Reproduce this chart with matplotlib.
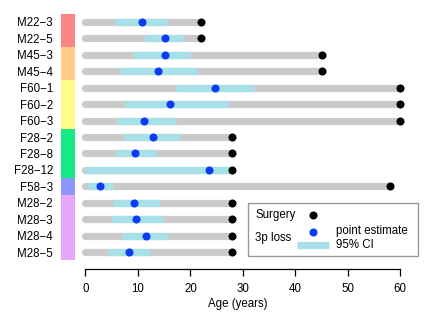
import matplotlib
matplotlib.use("Agg")
import matplotlib.pyplot as plt
from matplotlib.patches import Rectangle
from matplotlib.lines import Line2D

plt.rcParams['font.family'] = ['Liberation Sans', 'DejaVu Sans']

samples = ["M22−3", "M22−5", "M45−3", "M45−4", "F60−1", "F60−2", "F60−3",
           "F28−2", "F28−8", "F28−12", "F58−3", "M28−2", "M28−3", "M28−4", "M28−5"]
surgery = [22, 22, 45, 45, 60, 60, 60, 28, 28, 28, 58, 28, 28, 28, 28]
estimate = [10.7, 15.2, 15.1, 13.8, 24.7, 16.1, 11.2, 12.8, 9.5, 23.6, 2.7, 9.2, 9.6, 11.5, 8.2]
ci_low = [5.6, 11.4, 9.1, 6.5, 17.2, 7.5, 6.1, 7.3, 5.8, 0.0, 0.5, 5.3, 5.1, 7.0, 4.2]
ci_high = [15.5, 18.5, 19.9, 21.2, 32.2, 27.1, 17.2, 18.0, 13.4, 28.0, 5.3, 14.2, 14.7, 15.5, 12.3]

groups = ["M22", "M45", "F60", "F28", "F58", "M28"]
group_sizes = [2, 2, 3, 3, 1, 4]
group_colors = ["#FA8585", "#FECD87", "#FEFB88", "#14EA84", "#8C96FB", "#E8A6F6"]

xticks = [0, 10, 20, 30, 40, 50, 60]

FS = 8.3
W, H = 441, 323
fig = plt.figure(figsize=(W / 100, H / 100), dpi=100)
ax = fig.add_axes([55 / W, 1 - 269 / H, 365 / W, 259 / H])
ax.set_xlim(-5.81, 63.75)
ax.set_ylim(15.03, -0.73)

gray = "#CACACA"
cyan = "#A8E0EA"
blue = "#0A3CF5"

for i, (s, e, lo, hi) in enumerate(zip(surgery, estimate, ci_low, ci_high)):
    ax.plot([0, s], [i, i], color=gray, lw=5.2, solid_capstyle='round', zorder=1)
    ax.plot([lo, hi], [i, i], color=cyan, lw=5.2, solid_capstyle='butt', zorder=2)
    ax.plot([e], [i], 'o', color=blue, ms=5.8, mec='none', zorder=3)
    ax.plot([s], [i], 'o', color='black', ms=5.8, mec='none', zorder=3)

start = 0
for g, n, c in zip(groups, group_sizes, group_colors):
    ax.add_patch(Rectangle((-4.67, start - 0.5), 2.67, n, facecolor=c,
                           edgecolor='none', clip_on=False, zorder=1))
    start += n

ax.set_yticks(range(len(samples)))
ax.set_yticklabels(samples, fontsize=FS)
ax.tick_params(axis='y', length=0, pad=1.5)

for sp in ['top', 'right', 'left']:
    ax.spines[sp].set_visible(False)
ax.spines['bottom'].set_bounds(0, 60)
ax.spines['bottom'].set_linewidth(0.9)
ax.set_xticks(xticks)
ax.set_xticklabels([str(t) for t in xticks], fontsize=FS)
ax.tick_params(axis='x', direction='out', length=5, width=0.9, pad=5)
ax.set_xlabel("Age (years)", fontsize=FS, labelpad=2)

# legend drawn in figure pixel coordinates
def fx(x):
    return x / W

def fy(y):
    return 1 - y / H

fig.patches.append(Rectangle((fx(247.7), fy(256)), (417.7 - 247.7) / W, (256 - 202.7) / H,
                             transform=fig.transFigure, facecolor='white',
                             edgecolor='#999999', lw=1.0, zorder=5))
fig.text(fx(255), fy(215), "Surgery", fontsize=FS, va='center', ha='left', zorder=6)
fig.text(fx(255), fy(238), "3p loss", fontsize=FS, va='center', ha='left', zorder=6)
fig.add_artist(Line2D([fx(313)], [fy(215)], marker='o', color='black', ms=5.8,
                      mec='none', transform=fig.transFigure, zorder=6))
fig.add_artist(Line2D([fx(313)], [fy(231.5)], marker='o', color=blue, ms=5.8,
                      mec='none', transform=fig.transFigure, zorder=6))
fig.add_artist(Line2D([fx(296.7), fx(329.3)], [fy(245), fy(245)], color=cyan, lw=5.2,
                      solid_capstyle='butt', transform=fig.transFigure, zorder=6))
fig.text(fx(335.7), fy(231), "point estimate", fontsize=FS, va='center', ha='left', zorder=6)
fig.text(fx(335.7), fy(245.5), "95% CI", fontsize=FS, va='center', ha='left', zorder=6)

fig.savefig("out.png", dpi=100)
